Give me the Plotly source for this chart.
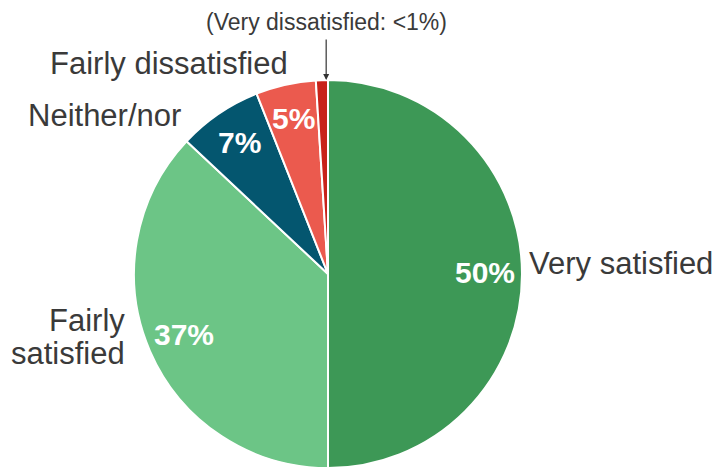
import math
import plotly.graph_objects as go

categories = ["Very satisfied", "Fairly satisfied", "Neither/nor", "Fairly dissatisfied", "Very dissatisfied"]
values = [50, 37, 7, 5, 1]
pct_labels = ["50%", "37%", "7%", "5%", ""]
colors = ["#3D9856", "#6CC586", "#04566F", "#EB5A4E", "#C8231A"]

W, H = 717, 468
CX, CY, R = 328, 274, 194  # pie centre / radius in pixels

def px2paper(x, y):
    return x / W, 1 - y / H

fig = go.Figure(go.Pie(
    labels=categories,
    values=values,
    sort=False,
    direction="clockwise",
    rotation=0,
    marker=dict(colors=colors, line=dict(color="white", width=2)),
    textinfo="none",
    hoverinfo="label+percent",
    showlegend=False,
    domain=dict(x=[(CX - R) / W, (CX + R) / W], y=[0, 2 * R / H]),
))

annotations = []
total = sum(values)
cum = 0
angles = []
for v in values:
    start = cum / total
    cum += v
    end = cum / total
    angles.append((start, end))

# percentage labels inside slices
for (s, e), txt in zip(angles, pct_labels):
    if not txt:
        continue
    theta = 2 * math.pi * (s + e) / 2
    x = CX + 0.81 * R * math.sin(theta)
    y = CY - 0.81 * R * math.cos(theta) - 2
    xp, yp = px2paper(x, y)
    annotations.append(dict(x=xp, y=yp, xref="paper", yref="paper", text="<b>%s</b>" % txt,
                            showarrow=False, xanchor="center", yanchor="middle",
                            font=dict(family="Liberation Sans, Arial", size=30, color="white")))

label_font = dict(family="Liberation Sans, Arial", size=31, color="#3a3a3a")
outside = [
    ("Very satisfied", 527, 263, "left"),
    ("Fairly", 127, 320, "right"),
    ("satisfied", 127, 353, "right"),
    ("Neither/nor", 183, 115, "right"),
    ("Fairly dissatisfied", 290, 64, "right"),
]
for txt, x, y, anc in outside:
    xp, yp = px2paper(x, y)
    annotations.append(dict(x=xp, y=yp, xref="paper", yref="paper", text=txt, showarrow=False,
                            xanchor=anc, yanchor="middle", align=anc, font=label_font))

xp, yp = px2paper(326, 22)
annotations.append(dict(x=xp, y=yp, xref="paper", yref="paper", text="(Very dissatisfied: <1%)",
                        showarrow=False, xanchor="center", yanchor="middle",
                        font=dict(family="Liberation Sans, Arial", size=23, color="#3a3a3a")))

# arrow pointing at the very dissatisfied slice
s, e = angles[-1]
theta = 2 * math.pi * (s + 0.85 * (e - s))
tx = CX + R * math.sin(theta)
ty = CY - R * math.cos(theta)
xp, yp = px2paper(tx, ty)
annotations.append(dict(x=xp, y=yp, xref="paper", yref="paper", text="", showarrow=True,
                        ax=0, ay=-(ty - 38), arrowhead=2, arrowsize=1, arrowwidth=1.2,
                        arrowcolor="#333333", standoff=0))

fig.update_layout(
    width=W, height=H,
    margin=dict(l=0, r=0, t=0, b=0),
    paper_bgcolor="white",
    plot_bgcolor="white",
    annotations=annotations,
)

fig.write_html("out.html")
